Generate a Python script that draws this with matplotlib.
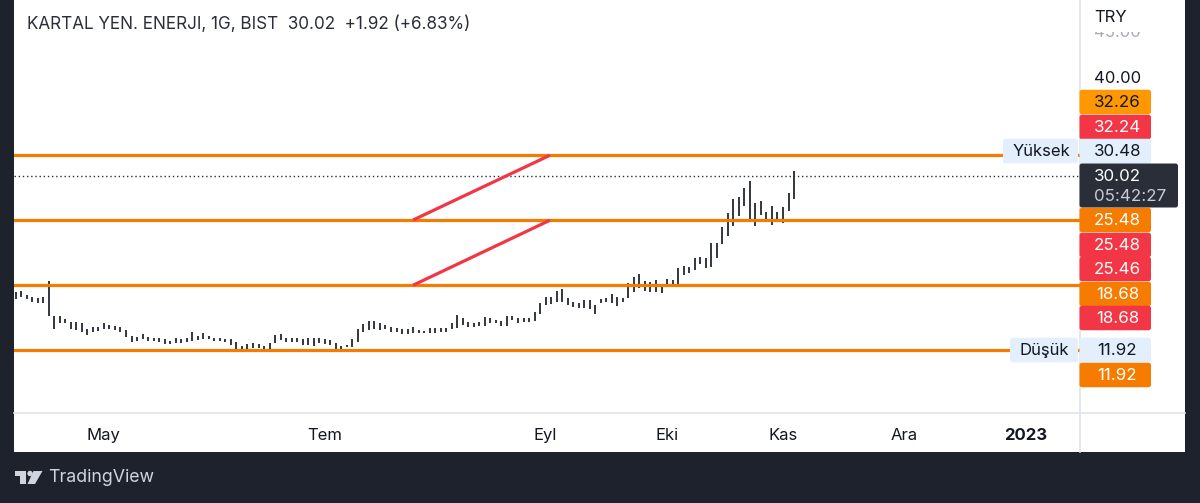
import numpy as np
import matplotlib
matplotlib.use("Agg")
import matplotlib.pyplot as plt
from matplotlib.patches import Rectangle, FancyBboxPatch, Polygon, Circle

plt.rcParams['font.family'] = ['Inter', 'DejaVu Sans']

# ---------- data ----------
highs = [17.93,18.04,17.69,17.41,17.30,17.48,19.11,15.46,15.46,15.15,14.87,14.80,14.70,14.11,14.28,14.28,14.70,14.52,14.45,14.35,
         14.00,13.41,13.24,13.62,13.31,13.20,13.13,13.06,12.85,13.20,13.03,13.20,13.83,13.41,13.65,13.41,13.17,13.17,13.10,13.06,
         12.71,12.37,12.51,12.65,12.51,12.37,12.68,13.45,13.55,13.20,13.20,13.17,13.10,13.13,13.17,13.17,13.06,12.92,12.61,12.37,
         12.44,13.03,14.11,14.63,14.94,14.97,14.70,14.52,14.28,14.18,14.11,14.14,14.28,14.00,13.93,14.18,14.21,14.18,14.18,14.70,
         15.57,15.29,14.87,14.77,14.87,15.39,15.29,15.08,14.94,15.46,15.43,15.29,15.22,15.29,15.84,16.78,17.41,17.48,18.10,18.24,
         17.34,16.89,16.78,17.10,17.13,16.64,17.21,17.35,17.73,17.45,17.31,18.88,19.50,19.85,19.12,19.05,19.19,18.81,19.29,19.22,
         20.47,20.72,20.54,21.48,21.62,21.55,23.05,23.05,24.79,26.18,27.64,27.92,28.78,29.51,27.22,27.50,26.35,26.94,26.35,26.80,
         28.33,30.63]
lows = [17.20,17.41,17.20,16.96,16.78,16.78,15.50,14.07,14.77,14.70,14.11,14.00,13.83,13.48,13.76,13.90,14.07,14.11,14.00,13.83,
        13.31,12.71,12.85,13.06,12.85,12.82,12.71,12.54,12.51,12.61,12.65,12.71,12.85,12.96,13.10,13.03,12.82,12.82,12.75,12.44,
        11.91,11.98,12.05,12.12,12.09,11.85,11.85,12.68,12.96,12.75,12.75,12.71,12.47,12.47,12.37,12.61,12.54,12.44,11.98,12.05,
        12.19,12.26,12.78,13.83,13.97,14.14,13.97,14.07,13.83,13.79,13.55,13.55,13.65,13.65,13.65,13.65,13.72,13.76,13.76,14.07,
        14.18,14.52,14.31,14.28,14.42,14.42,14.70,14.70,14.45,14.42,15.08,14.70,14.80,14.87,14.94,15.67,16.61,16.68,16.89,16.96,
        16.64,16.44,16.33,16.26,16.16,15.67,16.79,16.96,16.79,16.55,16.89,17.31,18.01,18.42,18.11,17.94,18.01,17.83,18.81,18.67,
        18.81,19.74,19.92,20.30,20.89,20.51,20.54,21.48,22.94,23.85,24.86,25.90,26.98,25.31,24.86,26.00,25.45,24.96,25.41,25.20,
        26.45,27.64]
level_prices = [32.26, 25.48, 18.68, 11.92]
trend_x = [72, 96.8]
trend_upper = [25.48, 32.24]
trend_lower = [18.68, 25.46]
last_price = 30.02
month_pos = [16.0, 55.9, 95.9, 118, 139, 161, 183]
month_labels = ['May', 'Tem', 'Eyl', 'Eki', 'Kas', 'Ara', '2023']
price_ticks = [40.0, 45.0]
price_tick_labels = ['40.00', '45.00']
badge_labels = ['32.26', '32.24', '30.48', '25.48', '25.48', '25.46', '18.68', '18.68', '11.92', '11.92']
header = 'KARTAL YEN. ENERJI, 1G, BIST  30.02  +1.92 (+6.83%)'

DARK = '#1e222d'
ORANGE = '#f57c00'
AMBER = '#ff9800'
RED = '#f23645'
BLUE = '#e3effd'
INK = '#131722'
GRID = '#e0e3eb'

W, H = 1200, 503
fig = plt.figure(figsize=(W / 100, H / 100), dpi=100, facecolor=DARK)

def pixel_axes(z):
    a = fig.add_axes([0, 0, 1, 1], zorder=z)
    a.set_xlim(0, W)
    a.set_ylim(H, 0)
    a.axis('off')
    a.patch.set_alpha(0)
    return a

bg = pixel_axes(0)
bg.add_patch(Rectangle((14, 0), 1171, 452, fc='white', ec='none'))
bg.plot([14, 1185], [413, 413], color=GRID, lw=1.2)
bg.plot([1080, 1080], [0, 452], color=GRID, lw=1.2)

# ---------- main chart ----------
ax = fig.add_axes([14 / W, 1 - 413 / H, (1080 - 14) / W, 413 / H], zorder=1)
ax.patch.set_alpha(0)
for s in ax.spines.values():
    s.set_visible(False)
days = np.arange(len(highs))
ax.set_xlim(-0.29, 192.8)
ax.set_ylim(5.35, 48.43)

ax.vlines(days, lows, highs, color='#2a2e39', lw=1.35, zorder=3)
ax.axhline(last_price, color='#2a2e39', lw=1.0, ls=(0, (1, 2)), zorder=2)
for p in level_prices:
    ax.axhline(p, color=ORANGE, lw=2.3, zorder=4)
ax.plot(trend_x, trend_upper, color=RED, lw=2.3, zorder=5, solid_capstyle='butt')
ax.plot(trend_x, trend_lower, color=RED, lw=2.3, zorder=5, solid_capstyle='butt')

ax.set_xticks(month_pos)
ax.set_xticklabels(month_labels, fontsize=12, color=INK)
ax.get_xticklabels()[-1].set_fontweight('bold')
ax.tick_params(axis='x', length=0, pad=11)
ax.set_yticks([])
for p, lab, dy, col in zip(price_ticks, price_tick_labels, [1.5, 0], [INK, '#a9acb3']):
    ax.annotate(lab, xy=(1, p), xycoords=('axes fraction', 'data'), xytext=(10, dy),
                textcoords='offset points', fontsize=12, color=col, va='center', ha='left')

# ---------- overlay: header, price badges, logo ----------
ov = pixel_axes(2)
ov.text(27, 24, header, fontsize=12.3, color='#2a2e39', va='center', ha='left')

ov.add_patch(Rectangle((1082, 24), 80, 8, fc='white', ec='none'))
ov.text(1094, 17.5, 'TRY', fontsize=12, color=INK, va='center', ha='left')

def badge(x0, x1, yc, fc, h=24.5):
    ov.add_patch(FancyBboxPatch((x0 + 1.5, yc - h / 2 + 1.5), x1 - x0 - 3, h - 3,
                                boxstyle='round,pad=1.5,rounding_size=2.5',
                                fc=fc, ec='none', mutation_aspect=1))

specs = [(102, AMBER, INK), (127, RED, 'white'), (151, BLUE, INK), (220, ORANGE, 'white'),
         (245, RED, 'white'), (269, RED, 'white'), (294, ORANGE, 'white'), (318, RED, 'white'),
         (350, BLUE, INK), (375, ORANGE, 'white')]
for (yc, fc, tc), lab in zip(specs, badge_labels):
    badge(1079.5, 1151, yc, fc)
    ov.text(1117.5, yc + 0.5, lab, fontsize=12.2, color=tc, va='center', ha='center')

badge(1079.5, 1178, 185.5, '#2a2e39', h=44)
ov.text(1094, 176.5, '30.02', fontsize=12.2, color='white', va='center', ha='left')
ov.text(1094, 196.5, '05:42:27', fontsize=12.2, color='#c9ccd3', va='center', ha='left')

badge(1003, 1078, 151, BLUE)
ov.text(1041, 151, 'Yüksek', fontsize=12, color=INK, va='center', ha='center')
badge(1010, 1078, 350, BLUE)
ov.text(1044, 350, 'Düşük', fontsize=12, color=INK, va='center', ha='center')

LOGO = '#d1d4dc'
ov.add_patch(Polygon([(15, 471), (26, 471), (26, 484), (20, 484), (20, 476), (15, 476)], fc=LOGO, ec='none'))
ov.add_patch(Circle((30, 473.5), 2.7, fc=LOGO, ec='none'))
ov.add_patch(Polygon([(33.5, 471), (42.5, 471), (35, 484), (27.5, 484)], fc=LOGO, ec='none'))
ov.text(48.5, 477, 'TradingView', fontsize=12.8, color=LOGO, va='center', ha='left')

fig.savefig('out.png', dpi=100, facecolor=DARK)
